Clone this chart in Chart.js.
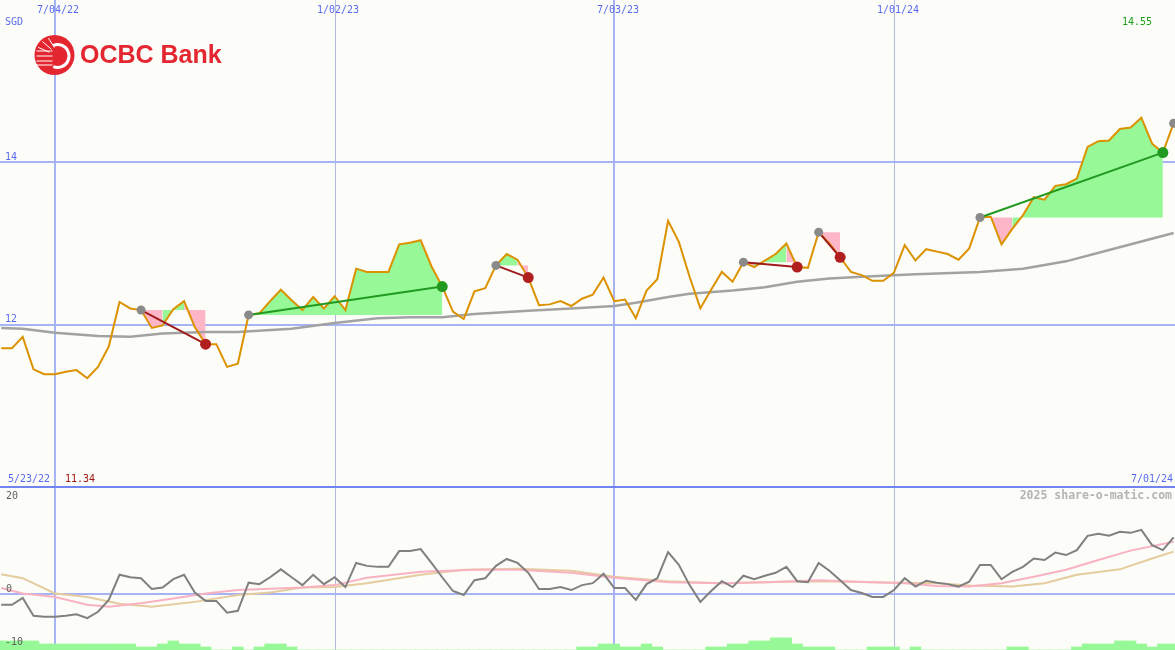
<!DOCTYPE html>
<html>
<head>
<meta charset="utf-8">
<script src="https://cdn.jsdelivr.net/npm/chart.js@4.4.0/dist/chart.umd.min.js"></script>
<style>
  body { margin: 0; background: #fcfdf8; }
  #wrap { position: relative; width: 1175px; height: 650px; overflow: hidden; background: #fcfdf8; }
  canvas { position: absolute; left: 0; }
  .lbl { position: absolute; font-family: "DejaVu Sans Mono", monospace; font-size: 10px; line-height: 10px; white-space: nowrap; color: #5a6af0; }
  .dark { color: #606060; }
  .low { color: #a01414; }
  .high { color: #18a018; }
  .brand { position: absolute; left: 80px; top: 42px; font: bold 25px "Liberation Sans", Arial, sans-serif; line-height: 25px; color: #e3262f; white-space: nowrap; }
  .credit { position: absolute; right: 3px; top: 490px; font: bold 11.5px "DejaVu Sans Mono", monospace; line-height: 11.5px; color: #b4b4b4; white-space: nowrap; }
</style>
</head>
<body>
<div id="wrap">
  <canvas id="priceChart" width="1175" height="487" style="top:0"></canvas>
  <canvas id="oscChart" width="1175" height="163" style="top:487px"></canvas>
  <div class="brand">OCBC Bank</div>
  <div class="lbl" style="left:5px;top:16.5px">SGD</div>
  <div class="lbl" style="left:37px;top:4.5px">7/04/22</div>
  <div class="lbl" style="left:317px;top:4.5px">1/02/23</div>
  <div class="lbl" style="left:597px;top:4.5px">7/03/23</div>
  <div class="lbl" style="left:877px;top:4.5px">1/01/24</div>
  <div class="lbl high" style="left:1122px;top:16.5px">14.55</div>
  <div class="lbl" style="left:5px;top:151.5px">14</div>
  <div class="lbl" style="left:5px;top:314px">12</div>
  <div class="lbl" style="left:8px;top:474px">5/23/22</div>
  <div class="lbl low" style="left:65px;top:474px">11.34</div>
  <div class="lbl" style="left:1131px;top:474px">7/01/24</div>
  <div class="credit">2025 share-o-matic.com</div>
  <div class="lbl dark" style="left:6px;top:490.5px">20</div>
  <div class="lbl dark" style="left:6px;top:584px">0</div>
  <div class="lbl dark" style="left:5px;top:637px">-10</div>
</div>
<script>
// weekly closes, week 0 = 5/30/22 ... week 109 = 7/01/24
const price = [
  11.71, 11.71, 11.85, 11.45, 11.39, 11.39, 11.42, 11.44, 11.34, 11.48,
  11.73, 12.28, 12.20, 12.18, 11.96, 11.99, 12.19, 12.29, 11.97, 11.76,
  11.76, 11.48, 11.52, 12.12, 12.14, 12.29, 12.43, 12.30, 12.18, 12.34,
  12.20, 12.35, 12.18, 12.69, 12.65, 12.65, 12.65, 12.99, 13.01, 13.04,
  12.72, 12.47, 12.16, 12.07, 12.41, 12.45, 12.73, 12.87, 12.80, 12.58,
  12.24, 12.25, 12.29, 12.23, 12.32, 12.37, 12.58, 12.29, 12.31, 12.08,
  12.42, 12.56, 13.28, 13.02, 12.59, 12.20, 12.43, 12.65, 12.53, 12.77,
  12.71, 12.79, 12.87, 13.00, 12.71, 12.70, 13.14, 13.00, 12.83, 12.65,
  12.61, 12.54, 12.54, 12.64, 12.98, 12.79, 12.93, 12.90, 12.87, 12.80,
  12.94, 13.32, 13.33, 12.99, 13.18, 13.35, 13.57, 13.54, 13.71, 13.73,
  13.80, 14.19, 14.26, 14.27, 14.41, 14.43, 14.55, 14.23, 14.12, 14.48
];

// moving average (grey), read at a few weeks
const maWeek = [0, 2, 5, 9, 12, 15, 19, 22, 27, 31, 35, 38, 41, 44, 49, 53, 57, 59, 62, 64, 68, 71, 74, 77, 80, 85, 91, 95, 99, 103, 109];
const maValue = [11.96, 11.95, 11.90, 11.86, 11.85, 11.89, 11.91, 11.91, 11.95, 12.02, 12.08, 12.09, 12.09, 12.13, 12.17, 12.20, 12.23, 12.27, 12.34, 12.38, 12.42, 12.46, 12.53, 12.57, 12.59, 12.62, 12.65, 12.69, 12.78, 12.92, 13.13];

// trend setups: start week -> end week
const setupStart = [13, 23, 46, 69, 76, 91];
const setupEnd = [19, 41, 49, 74, 78, 108];
const openStart = [109];

// lower panel
const osc = [
  -2.1, -2.1, -0.7, -4.3, -4.5, -4.5, -4.3, -4.0, -4.8, -3.5,
  -1.1, 4.0, 3.5, 3.3, 1.1, 1.4, 3.1, 4.0, 0.4, -1.3,
  -1.3, -3.7, -3.3, 2.4, 2.1, 3.5, 5.1, 3.5, 1.9, 4.0,
  2.1, 3.5, 1.5, 6.4, 5.8, 5.6, 5.6, 8.8, 8.8, 9.2,
  6.4, 3.5, 0.7, -0.1, 2.9, 3.3, 5.8, 7.2, 6.4, 4.4,
  1.1, 1.1, 1.5, 0.9, 1.9, 2.3, 4.2, 1.3, 1.3, -1.1,
  2.1, 3.3, 8.6, 6.0, 1.9, -1.5, 0.7, 2.7, 1.5, 3.8,
  3.1, 3.8, 4.4, 5.6, 2.7, 2.5, 6.4, 4.8, 2.9, 0.9,
  0.3, -0.5, -0.5, 0.9, 3.3, 1.6, 2.8, 2.4, 2.1, 1.6,
  2.6, 6.0, 6.0, 3.1, 4.6, 5.6, 7.3, 7.0, 8.5, 8.0,
  9.0, 11.9, 12.3, 11.9, 12.7, 12.5, 13.1, 10.0, 9.0, 11.6
];
const pinkWeek = [0, 2, 5, 8, 10, 13, 16, 19, 22, 28, 31, 34, 39, 44, 48, 53, 57, 62, 67, 71, 76, 81, 84, 87, 90, 93, 96, 99, 102, 105, 109];
const pinkValue = [1.3, 0.2, -0.5, -2.1, -2.5, -1.8, -0.8, 0.2, 0.9, 1.4, 1.9, 3.4, 4.6, 5.0, 5.0, 4.4, 3.4, 2.5, 2.3, 2.5, 2.9, 2.5, 2.3, 1.7, 1.6, 2.3, 3.6, 5.0, 7.0, 8.9, 10.7];
const tanWeek = [0, 2, 5, 8, 11, 14, 18, 22, 25, 28, 31, 34, 39, 43, 48, 53, 57, 62, 67, 71, 76, 81, 84, 87, 90, 94, 97, 100, 104, 107, 109];
const tanValue = [4.1, 3.3, 0.2, -0.5, -1.9, -2.5, -1.5, -0.1, 0.4, 1.4, 1.5, 2.3, 4.0, 5.0, 5.2, 4.8, 3.6, 2.7, 2.3, 2.5, 2.7, 2.5, 2.4, 2.3, 1.8, 1.6, 2.3, 4.0, 5.1, 7.3, 8.7];
const volume = [
  3, 3, 3, 3, 2, 2, 2, 2, 2, 2,
  2, 2, 2, 1, 1, 2, 3, 2, 2, 1,
  0, 0, 1, 0, 1, 2, 2, 1, 0, 0,
  0, 0, 0, 0, 0, 0, 0, 0, 0, 0,
  0, 0, 0, 0, 0, 0, 0, 0, 0, 0,
  0, 0, 0, 0, 1, 1, 2, 2, 1, 1,
  2, 1, 0, 0, 0, 0, 1, 1, 2, 2,
  3, 3, 4, 4, 2, 1, 1, 1, 0, 0,
  0, 1, 1, 1, 0, 1, 0, 0, 0, 0,
  0, 0, 0, 0, 1, 1, 0, 0, 0, 0,
  1, 2, 2, 2, 3, 3, 2, 1, 2, 2
];

// ticks
const dateWeek = [5, 31, 57, 83];   // 7/04/22, 1/02/23, 7/03/23, 1/01/24
const priceTicks = [12, 14];
const oscTicks = [0];

const BG = "#fcfdf8";
const GREEN_FILL = "#96f896";
const PINK_FILL = "#fdb6c8";
const UP = "#229a22";
const DOWN = "#a01c1c";

const xScale = { type: "linear", min: -0.113, max: 109.13, offset: false, display: false };

const pts = (xs, ys) => xs.map((x, i) => ({ x: x, y: ys[i] }));
const weeks = price.map((v, i) => i);

const background = {
  id: "background",
  beforeDraw(chart) {
    const { ctx, width, height } = chart;
    ctx.save();
    ctx.fillStyle = BG;
    ctx.fillRect(0, 0, width, height);
    ctx.restore();
  },
};

function gridPlugin(yTicks, yId, sepTop) {
  return {
    id: "grid",
    beforeDatasetsDraw(chart) {
      const { ctx, chartArea: a, scales } = chart;
      const x = scales.x;
      const y = scales[yId];
      ctx.save();
      dateWeek.forEach((d, i) => {
        const px = Math.round(x.getPixelForValue(d));
        if (i % 2 === 0) {
          ctx.fillStyle = "#a6b3f4";
          ctx.fillRect(px - 1, a.top, 2, a.bottom - a.top);
        } else {
          ctx.fillStyle = "#b3b9dc";
          ctx.fillRect(px, a.top, 1, a.bottom - a.top);
        }
      });
      ctx.fillStyle = "#a6b3f4";
      yTicks.forEach((t) => {
        const py = Math.round(y.getPixelForValue(t));
        ctx.fillRect(a.left, py - 1, a.right - a.left, 2);
      });
      ctx.fillStyle = "#7284f0";
      if (sepTop) ctx.fillRect(0, 0, chart.width, 1);
      else ctx.fillRect(0, chart.height - 1, chart.width, 1);
      ctx.restore();
    },
  };
}

const logo = {
  id: "logo",
  afterDraw(chart) {
    const ctx = chart.ctx;
    const cx = 54.5, cy = 55, r = 20;
    ctx.save();
    ctx.fillStyle = "#e3262f";
    ctx.beginPath();
    ctx.arc(cx, cy, r, 0, Math.PI * 2);
    ctx.fill();
    ctx.strokeStyle = "#ffffff";
    ctx.lineWidth = 3;
    ctx.beginPath();
    ctx.arc(cx + 3, cy + 1, 11.5, -Math.PI * 0.62, Math.PI * 0.62);
    ctx.stroke();
    ctx.lineWidth = 1;
    [51, 56, 61, 65].forEach((yy) => {
      ctx.beginPath();
      ctx.moveTo(cx - 18, yy);
      ctx.lineTo(cx - 2, yy);
      ctx.stroke();
    });
    [205, 228, 250].forEach((deg) => {
      const t = (deg * Math.PI) / 180;
      ctx.beginPath();
      ctx.moveTo(cx + 3 + Math.cos(t) * 9, cy + 1 + Math.sin(t) * 9);
      ctx.lineTo(cx + Math.cos(t) * (r - 2), cy + Math.sin(t) * (r - 2));
      ctx.stroke();
    });
    ctx.restore();
  },
};

// ---- upper panel ----
const upperSets = [];

setupStart.forEach((s, k) => {
  const e = setupEnd[k];
  const ref = price[s];
  upperSets.push({
    type: "line",
    data: pts(weeks.slice(s, e + 1), price.slice(s, e + 1)),
    borderWidth: 0,
    pointRadius: 0,
    backgroundColor: GREEN_FILL,
    fill: { value: ref },
    segment: {
      backgroundColor: (c) => (c.p1.parsed.y >= ref ? GREEN_FILL : PINK_FILL),
    },
    order: 5,
  });
  const up = price[e] >= price[s];
  upperSets.push({
    type: "line",
    data: pts([s, e], [price[s], price[e]]),
    borderColor: up ? UP : DOWN,
    borderWidth: 2,
    pointRadius: 0,
    order: 1,
  });
});

upperSets.push({
  type: "line",
  data: pts(maWeek, maValue),
  borderColor: "#a2a2a2",
  borderWidth: 2.5,
  pointRadius: 0,
  order: 3,
});

upperSets.push({
  type: "line",
  data: pts(weeks, price),
  borderColor: "#dc9200",
  borderWidth: 2,
  pointRadius: 0,
  order: 2,
});

const startWeeks = setupStart.concat(openStart);
upperSets.push({
  type: "line",
  data: pts(startWeeks, startWeeks.map((w) => price[w])),
  showLine: false,
  pointRadius: 4.5,
  pointBorderWidth: 0,
  pointBackgroundColor: "#8a8a8a",
  order: 0,
});
upperSets.push({
  type: "line",
  data: pts(setupEnd, setupEnd.map((w) => price[w])),
  showLine: false,
  pointRadius: 5.5,
  pointBorderWidth: 0,
  pointBackgroundColor: setupEnd.map((w, k) => (price[w] >= price[setupStart[k]] ? UP : "#b01e1e")),
  order: 0,
});

new Chart(document.getElementById("priceChart"), {
  type: "line",
  data: { datasets: upperSets },
  options: {
    responsive: false,
    animation: false,
    devicePixelRatio: 1,
    events: [],
    layout: { padding: 0, autoPadding: false },
    scales: {
      x: xScale,
      y: { min: 10, max: 16, display: false },
    },
    plugins: { legend: { display: false }, tooltip: { enabled: false } },
  },
  plugins: [background, gridPlugin(priceTicks, "y", false), logo],
});

// ---- lower panel ----
new Chart(document.getElementById("oscChart"), {
  type: "line",
  data: {
    datasets: [
      {
        type: "bar",
        data: pts(weeks, volume),
        yAxisID: "yv",
        backgroundColor: "#96f896",
        borderWidth: 0,
        barPercentage: 1,
        categoryPercentage: 1,
        order: 10,
      },
      {
        data: pts(tanWeek, tanValue),
        yAxisID: "y",
        borderColor: "#e4cc9e",
        borderWidth: 2,
        pointRadius: 0,
        order: 3,
      },
      {
        data: pts(pinkWeek, pinkValue),
        yAxisID: "y",
        borderColor: "#f8b2c2",
        borderWidth: 2,
        pointRadius: 0,
        order: 2,
      },
      {
        data: pts(weeks, osc),
        yAxisID: "y",
        borderColor: "#808080",
        borderWidth: 2,
        pointRadius: 0,
        order: 1,
      },
    ],
  },
  options: {
    responsive: false,
    animation: false,
    devicePixelRatio: 1,
    events: [],
    layout: { padding: 0, autoPadding: false },
    scales: {
      x: xScale,
      y: { min: -11.26, max: 21.8, display: false },
      yv: { min: 0, max: 54, display: false },
    },
    plugins: { legend: { display: false }, tooltip: { enabled: false } },
  },
  plugins: [background, gridPlugin(oscTicks, "y", true)],
});
</script>
</body>
</html>
